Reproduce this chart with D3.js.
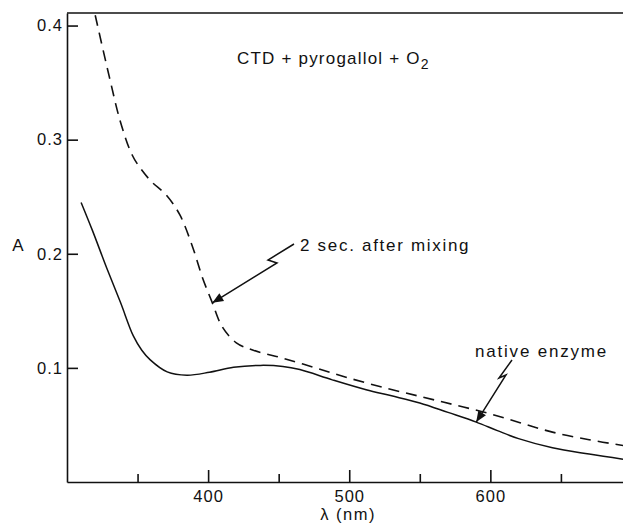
<!DOCTYPE html>
<html>
<head>
<meta charset="utf-8">
<script src="https://cdn.jsdelivr.net/npm/d3@7"></script>
<style>
  html, body { margin: 0; padding: 0; background: #fff; }
  svg { display: block; }
  text { font-family: "Liberation Sans", Arial, sans-serif; fill: #111; }
</style>
</head>
<body>
<svg id="chart" width="623" height="526"></svg>
<script>
// ---- data ----
const mixedLambda = [320, 330, 338, 346, 352, 360, 370, 380, 389, 396, 403, 410, 420, 432, 453, 477, 500, 527, 552, 575, 598, 621, 644, 670, 694];
const mixedA      = [0.409, 0.355, 0.315, 0.287, 0.275, 0.263, 0.252, 0.234, 0.206, 0.179, 0.157, 0.136, 0.122, 0.1155, 0.1085, 0.0997, 0.091, 0.082, 0.0744, 0.0675, 0.0604, 0.052, 0.0437, 0.037, 0.032];
const nativeLambda = [310, 318, 328, 338, 347, 353, 359, 371, 385, 401, 418, 437, 453, 465, 488, 512, 530, 550, 570, 590, 605, 620, 644, 670, 694];
const nativeA      = [0.245, 0.2205, 0.188, 0.157, 0.128, 0.1155, 0.107, 0.0965, 0.0936, 0.0962, 0.1005, 0.1022, 0.1013, 0.0985, 0.0895, 0.0808, 0.0755, 0.0693, 0.061, 0.0525, 0.045, 0.038, 0.0300, 0.0245, 0.020];
const xMajorTicks = [400, 500, 600];
const xMinorTicks = [350, 450, 550, 650];
const yTicks = [0.1, 0.2, 0.3, 0.4];
const xLabel = "λ (nm)";
const yLabel = "A";
const titleText = "CTD + pyrogallol + O";
const titleSub = "2";
const mixedLabel = "2 sec. after mixing";
const nativeLabel = "native enzyme";

// ---- layout ----
const svg = d3.select("#chart");
const mLeft = 67, mRight = 623, mTop = 13, mBottom = 482;
const x = d3.scaleLinear().domain([300, 694]).range([mLeft, mRight]);
const y = d3.scaleLinear().domain([0, 0.411]).range([mBottom, mTop]);
const ink = "#111";

// axes
const gx = svg.append("g").attr("transform", `translate(0,${mBottom})`)
  .call(d3.axisBottom(x).tickValues(xMajorTicks).tickSize(-12).tickSizeOuter(0).tickPadding(8).tickFormat(d3.format("d")));
const gxm = svg.append("g").attr("transform", `translate(0,${mBottom})`)
  .call(d3.axisBottom(x).tickValues(xMinorTicks).tickSize(-8).tickSizeOuter(0).tickFormat(""));
gxm.select(".domain").remove();
const gy = svg.append("g").attr("transform", `translate(${mLeft},0)`)
  .call(d3.axisLeft(y).tickValues(yTicks).tickSize(-11).tickSizeOuter(0).tickPadding(4).tickFormat(d3.format(".1f")));

[gx, gxm, gy].forEach(g => {
  g.selectAll(".domain").attr("stroke", ink).attr("stroke-width", 1.6);
  g.selectAll(".tick line").attr("stroke", ink).attr("stroke-width", 1.6);
  g.selectAll(".tick text").attr("font-size", 16.5).attr("fill", ink)
    .attr("font-family", "'Liberation Sans', Arial, sans-serif").style("letter-spacing", "1px");
});

// top frame line
svg.append("line").attr("x1", mLeft).attr("x2", mRight).attr("y1", mTop).attr("y2", mTop)
  .attr("stroke", ink).attr("stroke-width", 1.6);

// axis labels
svg.append("text").attr("x", 348).attr("y", 520).attr("text-anchor", "middle")
  .attr("font-size", 16.5).style("letter-spacing", "1.5px").text(xLabel);
svg.append("text").attr("x", 18).attr("y", 251).attr("text-anchor", "middle")
  .attr("font-size", 17).text(yLabel);

// curves
const line = d3.line().x(d => x(d[0])).y(d => y(d[1])).curve(d3.curveCatmullRom.alpha(0.5));
const mixed = mixedLambda.map((l, i) => [l, mixedA[i]]);
const native = nativeLambda.map((l, i) => [l, nativeA[i]]);

svg.append("path").datum(mixed).attr("d", line).attr("fill", "none")
  .attr("stroke", ink).attr("stroke-width", 1.6).attr("stroke-dasharray", "11,7");
svg.append("path").datum(native).attr("d", line).attr("fill", "none")
  .attr("stroke", ink).attr("stroke-width", 1.5);

// title annotation
const t = svg.append("text").attr("x", 237).attr("y", 64).attr("font-size", 17)
  .style("letter-spacing", "1.2px");
t.append("tspan").text(titleText);
t.append("tspan").attr("dy", 5).attr("font-size", 14).text(titleSub);

// labels with lightning arrows
svg.append("text").attr("x", 300).attr("y", 251).attr("font-size", 17)
  .style("letter-spacing", "1.7px").text(mixedLabel);
svg.append("text").attr("x", 475).attr("y", 357).attr("font-size", 17)
  .style("letter-spacing", "1.8px").text(nativeLabel);

function bolt(points, tip) {
  const all = points.concat([tip]);
  svg.append("path").attr("d", d3.line()(all)).attr("fill", "none")
    .attr("stroke", ink).attr("stroke-width", 1.5);
  const p = points[points.length - 1];
  const ang = Math.atan2(tip[1] - p[1], tip[0] - p[0]);
  const L = 11, W = 4.5;
  const bx = tip[0] - L * Math.cos(ang), by = tip[1] - L * Math.sin(ang);
  const nx = -Math.sin(ang), ny = Math.cos(ang);
  svg.append("path")
    .attr("d", `M${tip[0]},${tip[1]}L${bx + W * nx},${by + W * ny}L${bx - W * nx},${by - W * ny}Z`)
    .attr("fill", ink);
}
bolt([[294, 244], [268, 260], [277, 263]], [x(403), y(0.157)]);
bolt([[512, 360], [499, 378], [506, 375]], [x(590), y(0.0525)]);
</script>
</body>
</html>
